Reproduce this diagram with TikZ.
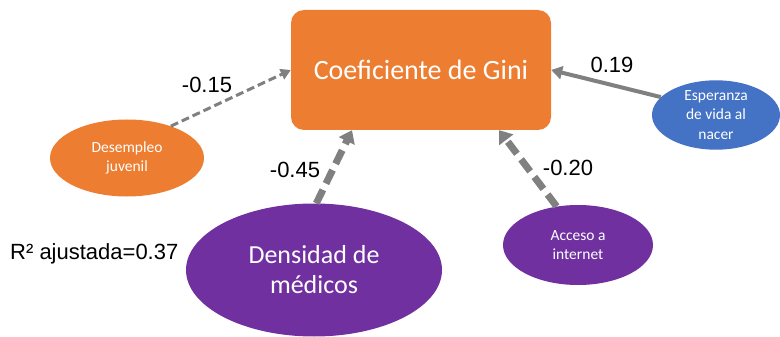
\documentclass[tikz,border=0pt]{standalone}
\usepackage{fontspec}
\setmainfont{Carlito}
\newfontfamily\labfont{Liberation Sans}
\usetikzlibrary{shapes.geometric,arrows.meta,calc}
\definecolor{gorange}{HTML}{ED7D31}
\definecolor{gblue}{HTML}{4472C4}
\definecolor{gpurple}{HTML}{7030A0}
\definecolor{garrow}{HTML}{808080}
\tikzset{
  mainbox/.style={rectangle, rounded corners=13pt, fill=gorange, text=white,
    minimum width=260pt, minimum height=120pt, inner sep=0pt, font=\fontsize{28}{32}\selectfont},
  oval/.style={ellipse, inner sep=0pt, text=white, align=center},
  smalltext/.style={font=\fontsize{15.5}{19.5}\selectfont},
  bigtext/.style={font=\fontsize{26}{30}\selectfont},
  coef/.style={font=\labfont\fontsize{22}{26}\selectfont, text=black, inner sep=0pt},
  thinarrow/.style={draw=garrow, line width=3pt, dash pattern=on 8pt off 4pt,
    -{Triangle[length=10pt,width=11pt]}},
  thickarrow/.style={draw=garrow, line width=7pt, dash pattern=on 15pt off 7pt,
    -{Triangle[length=12pt,width=17pt]}},
  solidarrow/.style={draw=garrow, line width=4pt, -{Triangle[length=11pt,width=13pt]}},
}
\begin{document}
\begin{tikzpicture}[x=1pt,y=-1pt]
\useasboundingbox (0,0) rectangle (780,337);
\node[mainbox] (gini) at (421,70) {Coeficiente de Gini};
\node[oval, smalltext, fill=gorange, minimum width=154pt, minimum height=77pt] (dj) at (127,158) {Desempleo\\juvenil};
\node[oval, smalltext, fill=gblue, minimum width=128pt, minimum height=64pt] (ev) at (716,115) {Esperanza\\de vida al\\nacer};
\node[oval, bigtext, fill=gpurple, minimum width=256pt, minimum height=133pt] (dm) at (314,270) {Densidad de\\médicos};
\node[oval, smalltext, fill=gpurple, minimum width=150pt, minimum height=80pt] (ai) at (578,245) {Acceso a\\internet};
\draw[thinarrow] (dj.36) -- (gini.west);
\draw[solidarrow] (ev.162) -- (gini.east);
\draw[thickarrow] (dm.88) -- ($(gini.south west)!0.235!(gini.south east)$);
\draw[thickarrow] (ai.119) -- ($(gini.south west)!0.80!(gini.south east)$);
\node[coef] (l1) at (207,85) {-0.15};
\node[coef] (l2) at (612,65) {0.19};
\node[coef] (l3) at (295,170) {-0.45};
\node[coef] (l4) at (568,168) {-0.20};
\node[coef, anchor=west] (r2) at (10,254) {R² ajustada=0.37};
\end{tikzpicture}
\end{document}
